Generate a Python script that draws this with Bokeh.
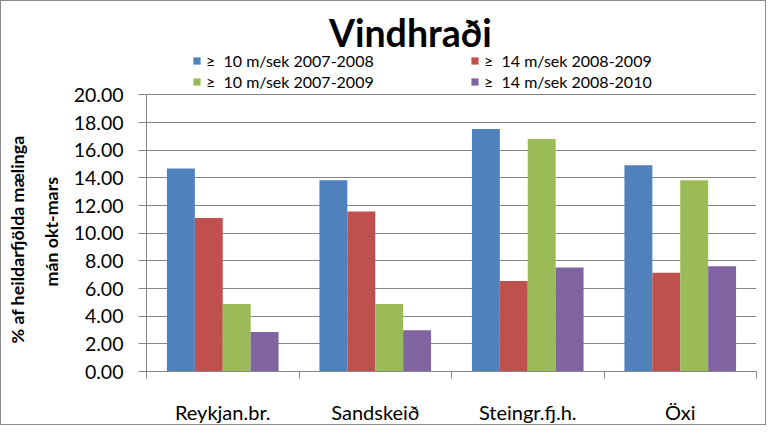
from bokeh.plotting import figure
from bokeh.models import (Range1d, FixedTicker, NumeralTickFormatter, Legend, LegendItem, Title, Label)
from bokeh.embed import file_html
from bokeh.resources import INLINE

categories = ["Reykjan.br.", "Sandskeið", "Steingr.fj.h.", "Öxi"]
series_names = ["≥  10 m/sek 2007-2008", "≥  14 m/sek 2008-2009",
                "≥  10 m/sek 2007-2009", "≥  14 m/sek 2008-2010"]
s1 = [14.69, 13.84, 17.54, 14.92]
s2 = [11.10, 11.58, 6.54, 7.14]
s3 = [4.88, 4.88, 16.82, 13.84]
s4 = [2.86, 2.98, 7.52, 7.62]
series = [s1, s2, s3, s4]
colors = ["#4F81BD", "#C0504D", "#9BBB59", "#8064A2"]
y_ticks = [0, 2, 4, 6, 8, 10, 12, 14, 16, 18, 20]
title_text = "Vindhraði"
y_label_lines = ["% af heildarfjölda mælinga", "mán okt-mars"]

FONT = "Lato"
GRAY = "#868686"

# the frame reaches the top of the canvas to host title and legend;
# the y axis and grid are bounded to 0..20
p = figure(width=766, height=425, output_backend="svg", toolbar_location=None, title=None,
           x_range=Range1d(0, len(categories)), y_range=Range1d(0, 26.76),
           min_border_left=145, min_border_right=11, min_border_top=0,
           min_border_bottom=53)
p.styles = {"border": "1px solid #8c8c8c"}
p.outline_line_color = None
p.background_fill_color = "white"
p.border_fill_color = "white"

bw = 0.183
renderers = []
for i, (vals, col) in enumerate(zip(series, colors)):
    xs = [k + 0.5 + (i - 1.5) * bw for k in range(len(categories))]
    r = p.vbar(x=xs, top=vals, width=bw, bottom=0, fill_color=col, line_color=None)
    renderers.append(r)

# title
p.add_layout(Label(x=1.73, y=24.52, text=title_text, text_align="center",
                   text_baseline="alphabetic", text_font=FONT, text_font_size="37.5px",
                   text_font_style="bold", text_color="black"))

# y axis
p.yaxis.bounds = (0, 20)
p.yaxis.ticker = FixedTicker(ticks=y_ticks)
p.yaxis.formatter = NumeralTickFormatter(format="0.00")
p.yaxis.major_label_text_font = FONT
p.yaxis.major_label_text_font_size = "19.5px"
p.yaxis.major_label_text_color = "black"
p.yaxis.major_tick_out = 8
p.yaxis.major_tick_in = 0
p.yaxis.minor_tick_out = 0
p.yaxis.minor_tick_in = 0
p.yaxis.axis_line_color = GRAY
p.yaxis.major_tick_line_color = GRAY
p.yaxis.major_label_standoff = 15

# y-axis label as two rotated titles in the left panel (closest first)
for txt, so, off in [(y_label_lines[1], 17, 85), (y_label_lines[0], 4, 28)]:
    t = Title(text=txt, align="left", offset=off, standoff=so,
              text_font=FONT, text_font_size="17.8px", text_font_style="bold",
              text_color="black")
    p.add_layout(t, "left")

# x axis
p.xaxis.ticker = FixedTicker(ticks=[k + 0.5 for k in range(len(categories))],
                             minor_ticks=list(range(len(categories) + 1)))
p.xaxis.major_label_overrides = {k + 0.5: c for k, c in enumerate(categories)}
p.xaxis.major_label_text_font = FONT
p.xaxis.major_label_text_font_size = "20px"
p.xaxis.major_label_text_color = "black"
p.xaxis.major_tick_out = 0
p.xaxis.major_tick_in = 0
p.xaxis.minor_tick_out = 7
p.xaxis.minor_tick_in = 0
p.xaxis.minor_tick_line_color = GRAY
p.xaxis.axis_line_color = GRAY
p.xaxis.major_label_standoff = 21

p.xgrid.visible = False
p.ygrid.ticker = FixedTicker(ticks=y_ticks)
p.ygrid.grid_line_color = GRAY
p.ygrid.grid_line_width = 1


def make_legend(idx, loc):
    return Legend(items=[LegendItem(label=series_names[i], renderers=[renderers[i]]) for i in idx],
                  location=loc, orientation="vertical",
                  label_text_font=FONT, label_text_font_size="16px", label_text_color="black",
                  glyph_width=9, glyph_height=9, label_standoff=5, label_height=20,
                  spacing=1, padding=0, margin=0, border_line_color=None,
                  background_fill_alpha=0)


p.add_layout(make_legend([0, 2], (46, 280)), "center")
p.add_layout(make_legend([1, 3], (324, 280)), "center")

open("out.html", "w").write(file_html(p, INLINE))
